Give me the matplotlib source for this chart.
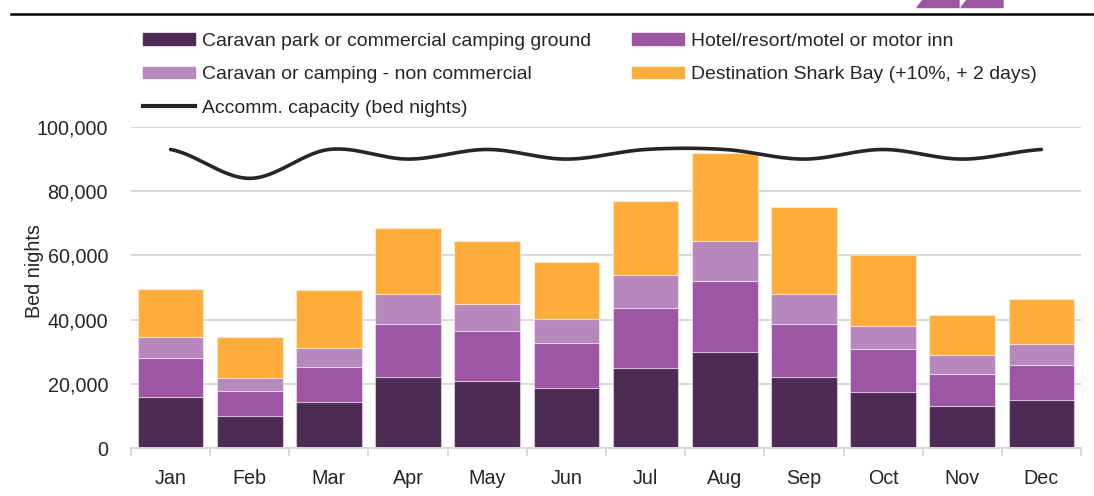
import numpy as np
import matplotlib
matplotlib.use("Agg")
import matplotlib.pyplot as plt
from matplotlib.patches import Polygon, Patch
from matplotlib.lines import Line2D

plt.rcParams['font.family'] = ['Liberation Sans', 'DejaVu Sans']

months = ["Jan", "Feb", "Mar", "Apr", "May", "Jun", "Jul", "Aug", "Sep", "Oct", "Nov", "Dec"]
caravan_park = [15800, 10000, 14400, 22000, 20800, 18600, 24800, 29800, 22000, 17400, 13200, 14900]
hotel = [12200, 7700, 10750, 16500, 15600, 14000, 18700, 22200, 16700, 13400, 10000, 11100]
non_commercial = [6500, 4100, 6150, 9400, 8600, 7700, 10400, 12400, 9200, 7300, 5700, 6300]
shark_bay = [15100, 12800, 18000, 20700, 19600, 17600, 23100, 27400, 27300, 21900, 12600, 14200]
capacity = [93000, 84000, 93000, 90000, 93000, 90000, 93000, 93000, 90000, 93000, 90000, 93000]

labels = ["Caravan park or commercial camping ground", "Hotel/resort/motel or motor inn",
          "Caravan or camping - non commercial", "Destination Shark Bay (+10%, + 2 days)",
          "Accomm. capacity (bed nights)"]
colors = ["#4E2B54", "#9C56A4", "#B688BE", "#FFAD3B"]
line_color = "#262626"
FS = 14.2
LFS = 13.95

W, H = 1094, 496
fig = plt.figure(figsize=(W / 100, H / 100), dpi=100)
ax = fig.add_axes([131 / W, 1 - 448 / H, 950 / W, 321 / H])

x = np.arange(len(months))
bottom = np.zeros(len(months))
series = [caravan_park, hotel, non_commercial, shark_bay]
for vals, c in zip(series, colors):
    ax.bar(x, vals, 0.83, bottom=bottom, color=c, edgecolor=(1, 1, 1, 0.45), linewidth=0.8, zorder=2)
    bottom += np.array(vals)

# smoothed capacity line (Catmull-Rom through the data points)
cap = np.array(capacity, dtype=float)
px = np.concatenate([[x[0] - 1], x, [x[-1] + 1]]).astype(float)
py = np.concatenate([[cap[0]], cap, [cap[-1]]])
sx, sy = [], []
for i in range(1, len(px) - 2):
    p0, p1, p2, p3 = py[i - 1], py[i], py[i + 1], py[i + 2]
    t = np.linspace(0, 1, 30)
    m1 = (p2 - p0) / 2
    m2 = (p3 - p1) / 2
    h00 = 2 * t**3 - 3 * t**2 + 1
    h10 = t**3 - 2 * t**2 + t
    h01 = -2 * t**3 + 3 * t**2
    h11 = t**3 - t**2
    sy.extend(h00 * p1 + h10 * m1 + h01 * p2 + h11 * m2)
    sx.extend(px[i] + t * (px[i + 1] - px[i]))
ax.plot(sx, sy, color=line_color, lw=2.6, solid_capstyle='round', zorder=3)

ax.set_xlim(-0.5, 11.5)
ax.set_ylim(0, 100000)
ax.set_yticks(np.arange(0, 100001, 20000))
ax.set_yticklabels([f"{v:,}" for v in range(0, 100001, 20000)])
ax.yaxis.grid(True, color="#D9D9D9", lw=1.4, zorder=0)
ax.set_axisbelow(True)
for s in ["top", "right", "left"]:
    ax.spines[s].set_visible(False)
ax.spines["bottom"].set_color("#D9D9D9")
ax.spines["bottom"].set_linewidth(1.4)
ax.tick_params(axis='y', length=0, pad=16.5, labelsize=FS, labelcolor="#262626")
ax.set_xticks(x)
ax.set_xticklabels(months)
ax.tick_params(axis='x', which='major', length=0, pad=15, labelsize=FS, labelcolor="#262626")
ax.set_xticks(np.arange(-0.5, 12, 1), minor=True)
ax.tick_params(axis='x', which='minor', length=6, width=1.4, color="#D9D9D9")
ax.set_ylabel("Bed nights", fontsize=FS, color="#262626")
ax.yaxis.set_label_coords(-0.092, 0.55)

handles = [Patch(color=colors[0]), Patch(color=colors[2]),
           Line2D([], [], color=line_color, lw=3),
           Patch(color=colors[1]), Patch(color=colors[3])]
hlabels = [labels[0], labels[2], labels[4], labels[1], labels[3]]
fig.legend(handles, hlabels, ncol=2, loc="upper left", bbox_to_anchor=(143 / W, 1 - 33 / H),
           frameon=False, fontsize=LFS, handlelength=2.7, handleheight=0.55,
           handletextpad=0.35, columnspacing=2.1, labelspacing=0.84, borderpad=0, borderaxespad=0,
           labelcolor="#262626")

# header decoration
fig.add_artist(Line2D([11 / W, 1], [1 - 13.5 / H] * 2, color="black", lw=1.8, transform=fig.transFigure))
for x0 in (917, 961):
    pts = [(x0 / W, 1 - 7.5 / H), ((x0 + 6) / W, 1.0), ((x0 + 42) / W, 1.0), ((x0 + 42) / W, 1 - 7.5 / H)]
    fig.add_artist(Polygon(pts, closed=True, color="#9C56A4", transform=fig.transFigure))

fig.savefig("out.png", dpi=100)
